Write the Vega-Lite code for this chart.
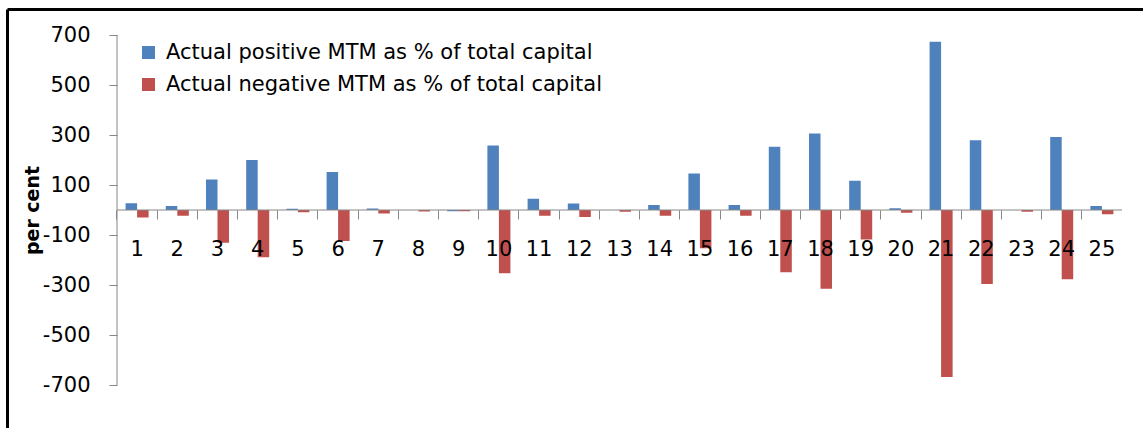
{
  "$schema": "https://vega.github.io/schema/vega-lite/v6.json",
  "autosize": "none",
  "width": 1136,
  "height": 419,
  "padding": {"left": 7, "top": 9, "right": 0, "bottom": 0},
  "background": "white",
  "title": {"text": "funds", "font": "DejaVu Sans", "fontSize": 26, "fontWeight": "bold", "color": "black", "anchor": "middle", "frame": "group", "baseline": "alphabetic", "offset": 4, "dx": -5},
  "config": {"view": {"stroke": null}},
  "datasets": {
    "mtm": [
      {"fund": 1, "series": "Actual positive MTM as % of total capital", "value": 27},
      {"fund": 1, "series": "Actual negative MTM as % of total capital", "value": -30},
      {"fund": 2, "series": "Actual positive MTM as % of total capital", "value": 16},
      {"fund": 2, "series": "Actual negative MTM as % of total capital", "value": -23},
      {"fund": 3, "series": "Actual positive MTM as % of total capital", "value": 122},
      {"fund": 3, "series": "Actual negative MTM as % of total capital", "value": -131},
      {"fund": 4, "series": "Actual positive MTM as % of total capital", "value": 200},
      {"fund": 4, "series": "Actual negative MTM as % of total capital", "value": -189},
      {"fund": 5, "series": "Actual positive MTM as % of total capital", "value": 5},
      {"fund": 5, "series": "Actual negative MTM as % of total capital", "value": -9},
      {"fund": 6, "series": "Actual positive MTM as % of total capital", "value": 152},
      {"fund": 6, "series": "Actual negative MTM as % of total capital", "value": -124},
      {"fund": 7, "series": "Actual positive MTM as % of total capital", "value": 6},
      {"fund": 7, "series": "Actual negative MTM as % of total capital", "value": -14},
      {"fund": 8, "series": "Actual positive MTM as % of total capital", "value": 0},
      {"fund": 8, "series": "Actual negative MTM as % of total capital", "value": -6},
      {"fund": 9, "series": "Actual positive MTM as % of total capital", "value": -5},
      {"fund": 9, "series": "Actual negative MTM as % of total capital", "value": -5},
      {"fund": 10, "series": "Actual positive MTM as % of total capital", "value": 258},
      {"fund": 10, "series": "Actual negative MTM as % of total capital", "value": -253},
      {"fund": 11, "series": "Actual positive MTM as % of total capital", "value": 45},
      {"fund": 11, "series": "Actual negative MTM as % of total capital", "value": -23},
      {"fund": 12, "series": "Actual positive MTM as % of total capital", "value": 26},
      {"fund": 12, "series": "Actual negative MTM as % of total capital", "value": -28},
      {"fund": 13, "series": "Actual positive MTM as % of total capital", "value": 0},
      {"fund": 13, "series": "Actual negative MTM as % of total capital", "value": -7},
      {"fund": 14, "series": "Actual positive MTM as % of total capital", "value": 20},
      {"fund": 14, "series": "Actual negative MTM as % of total capital", "value": -23},
      {"fund": 15, "series": "Actual positive MTM as % of total capital", "value": 146},
      {"fund": 15, "series": "Actual negative MTM as % of total capital", "value": -153},
      {"fund": 16, "series": "Actual positive MTM as % of total capital", "value": 20},
      {"fund": 16, "series": "Actual negative MTM as % of total capital", "value": -23},
      {"fund": 17, "series": "Actual positive MTM as % of total capital", "value": 253},
      {"fund": 17, "series": "Actual negative MTM as % of total capital", "value": -249},
      {"fund": 18, "series": "Actual positive MTM as % of total capital", "value": 306},
      {"fund": 18, "series": "Actual negative MTM as % of total capital", "value": -315},
      {"fund": 19, "series": "Actual positive MTM as % of total capital", "value": 117},
      {"fund": 19, "series": "Actual negative MTM as % of total capital", "value": -118},
      {"fund": 20, "series": "Actual positive MTM as % of total capital", "value": 7},
      {"fund": 20, "series": "Actual negative MTM as % of total capital", "value": -11},
      {"fund": 21, "series": "Actual positive MTM as % of total capital", "value": 673},
      {"fund": 21, "series": "Actual negative MTM as % of total capital", "value": -668},
      {"fund": 22, "series": "Actual positive MTM as % of total capital", "value": 279},
      {"fund": 22, "series": "Actual negative MTM as % of total capital", "value": -296},
      {"fund": 23, "series": "Actual positive MTM as % of total capital", "value": 0},
      {"fund": 23, "series": "Actual negative MTM as % of total capital", "value": -7},
      {"fund": 24, "series": "Actual positive MTM as % of total capital", "value": 292},
      {"fund": 24, "series": "Actual negative MTM as % of total capital", "value": -277},
      {"fund": 25, "series": "Actual positive MTM as % of total capital", "value": 16},
      {"fund": 25, "series": "Actual negative MTM as % of total capital", "value": -17}
    ]
  },
  "layer": [
    {
      "layer": [
        {
          "data": {"name": "mtm"},
          "mark": {"type": "bar"},
          "encoding": {
            "x": {
              "field": "fund", "type": "ordinal",
              "scale": {"paddingInner": 0, "paddingOuter": 0, "range": [110, 1115]},
              "axis": {"orient": "bottom", "offset": -218, "domain": false, "grid": false, "bandPosition": 0, "tickSize": 9, "tickColor": "#868686", "tickWidth": 1, "labelDx": 20.1, "labelAngle": 0, "labelFont": "DejaVu Sans", "labelFontSize": 21, "labelColor": "black", "labelPadding": 19, "labelOverlap": false, "title": null, "zindex": 1}
            },
            "xOffset": {
              "field": "series", "type": "nominal",
              "sort": ["Actual positive MTM as % of total capital", "Actual negative MTM as % of total capital"],
              "scale": {"paddingInner": 0, "paddingOuter": 0.746}
            },
            "y": {
              "field": "value", "type": "quantitative",
              "scale": {"domain": [-872, 804], "nice": false, "zero": false},
              "axis": {"orient": "left", "offset": -110, "values": [-700, -500, -300, -100, 100, 300, 500, 700], "labelExpr": "replace(datum.label, '\u2212', '-')", "domain": false, "grid": false, "tickSize": 8, "tickColor": "#868686", "tickWidth": 1, "labelFont": "DejaVu Sans", "labelFontSize": 21, "labelColor": "black", "labelPadding": 19, "title": "per cent", "titleFont": "DejaVu Sans", "titleFontSize": 19, "titleFontWeight": "bold", "titleColor": "black", "titleAngle": -90, "titleBaseline": "alphabetic", "titleAlign": "center", "titleX": -79, "titleY": 201}
            },
            "color": {
              "field": "series", "type": "nominal",
              "sort": ["Actual positive MTM as % of total capital", "Actual negative MTM as % of total capital"],
              "scale": {"range": ["#4F81BD", "#C0504D"]},
              "legend": {"orient": "none", "legendX": 131, "legendY": 33, "title": null, "symbolType": "square", "symbolSize": 169, "symbolStrokeWidth": 0, "labelFont": "DejaVu Sans", "labelFontSize": 21, "labelColor": "black", "labelOffset": 7, "rowPadding": 10, "labelLimit": 0}
            }
          }
        },
        {
          "data": {"values": [{}]},
          "mark": {"type": "rule", "color": "#868686", "strokeWidth": 1},
          "encoding": {
            "x": {"datum": 1, "type": "ordinal", "bandPosition": 0},
            "x2": {"datum": 25, "bandPosition": 1},
            "y": {"datum": 0, "type": "quantitative"}
          }
        },
        {
          "data": {"values": [{}]},
          "mark": {"type": "rule", "color": "#868686", "strokeWidth": 1},
          "encoding": {
            "x": {"datum": 1, "type": "ordinal", "bandPosition": 0},
            "y": {"datum": -700, "type": "quantitative"},
            "y2": {"datum": 700}
          }
        }
      ]
    },
    {
      "data": {"values": [{}]},
      "mark": {"type": "point", "opacity": 0},
      "encoding": {
        "x": {"datum": 0, "type": "quantitative", "scale": {"domain": [0, 1]}, "axis": {"orient": "top", "offset": 0, "domain": true, "domainColor": "black", "domainWidth": 3, "ticks": false, "labels": false, "grid": false, "title": null}},
        "y": {"datum": 0, "type": "quantitative", "scale": {"domain": [0, 1]}, "axis": {"orient": "left", "offset": 0, "domain": true, "domainColor": "black", "domainWidth": 3, "ticks": false, "labels": false, "grid": false, "title": null}}
      }
    }
  ],
  "resolve": {"scale": {"x": "independent", "y": "independent"}, "axis": {"x": "independent", "y": "independent"}}
}
